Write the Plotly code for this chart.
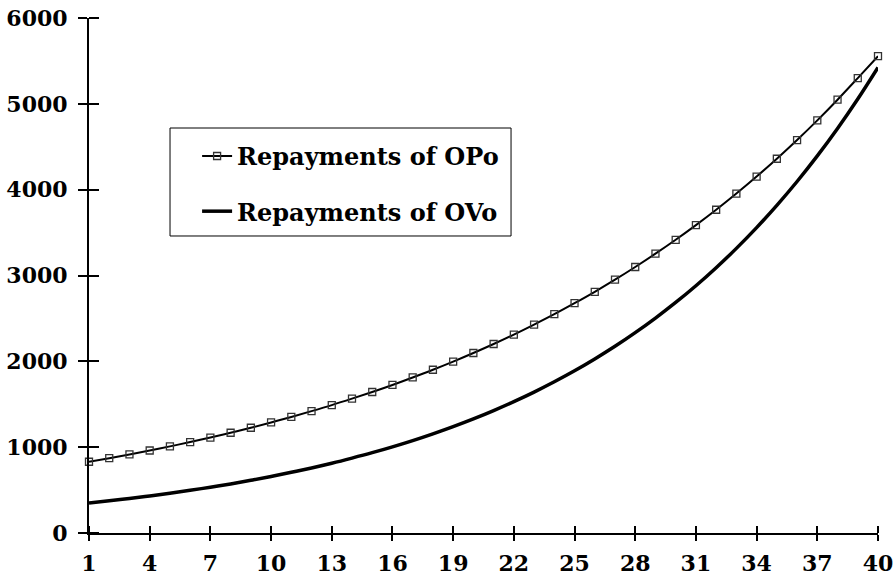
"""
Repayments of OPo vs OVo - Plotly line chart
"""
import plotly.graph_objects as go

# periods 1..40
periods = list(range(1, 41))

# repayments
opo_repayments = [
    830, 872, 915, 961, 1009, 1059, 1112, 1168, 1226, 1288,
    1352, 1420, 1490, 1565, 1643, 1725, 1812, 1902, 1997, 2097,
    2202, 2312, 2428, 2549, 2677, 2810, 2951, 3099, 3254, 3416,
    3587, 3766, 3955, 4153, 4360, 4578, 4807, 5048, 5300, 5555,
]
ovo_repayments = [
    350, 376, 403, 432, 464, 497, 534, 572, 614, 659,
    707, 758, 813, 873, 936, 1004, 1077, 1156, 1240, 1330,
    1427, 1531, 1642, 1762, 1890, 2028, 2175, 2334, 2504, 2686,
    2881, 3091, 3316, 3558, 3817, 4095, 4393, 4713, 5056, 5424,
]

x_ticks = list(range(1, 41, 3))
y_ticks = list(range(0, 6001, 1000))

FONT = dict(family="DejaVu Serif", color="black", weight="bold")

fig = go.Figure()
fig.add_trace(go.Scatter(
    x=periods, y=opo_repayments,
    name="Repayments of OPo",
    legendgroup="opo",
    mode="lines+markers",
    line=dict(color="black", width=2, shape="spline"),
    marker=dict(symbol="square-open", size=7, color="#333333",
                line=dict(width=1.3, color="#333333")),
    cliponaxis=False,
))
fig.add_trace(go.Scatter(
    x=periods, y=ovo_repayments,
    name="Repayments of OVo",
    legendgroup="ovo",
    mode="lines",
    line=dict(color="black", width=3.5, shape="spline"),
    cliponaxis=False,
))

tick_style = dict(tickwidth=2, tickcolor="black", showgrid=False,
                  zeroline=False, automargin=False)


def inner_ticks(vals, length):
    # plotly hides minor ticks that sit exactly on a major one, so nudge them
    return dict(tickmode="array", tickvals=[v + 1e-6 for v in vals],
                ticks="inside", ticklen=length, tickwidth=2,
                tickcolor="black", showgrid=False)


fig.update_layout(
    width=895, height=583,
    margin=dict(l=89, r=17, t=18, b=50),
    plot_bgcolor="white",
    paper_bgcolor="white",
    font=dict(FONT, size=22),
    showlegend=True,
    legend=dict(
        x=0.137, y=0.775, xanchor="left", yanchor="top",
        borderwidth=0, bgcolor="rgba(0,0,0,0)",
        font=dict(FONT, size=24),
        tracegroupgap=21,
        itemwidth=30,
    ),
    # legend frame
    shapes=[dict(
        type="rect", xref="paper", yref="paper",
        x0=0.1027, x1=0.5349, y0=0.5767, y1=0.7864,
        line=dict(color="black", width=1), fillcolor="white", layer="above",
    )],
    xaxis=dict(
        range=[1, 40],
        tickmode="array", tickvals=x_ticks,
        showline=True, linecolor="black", linewidth=2,
        ticks="outside", ticklen=6,
        minor=inner_ticks(x_ticks, 7),
        ticklabelstandoff=4,
        tickfont=dict(FONT, size=22),
        **tick_style,
    ),
    yaxis=dict(
        range=[0, 6000],
        tickmode="array", tickvals=y_ticks,
        showline=True, linecolor="black", linewidth=2,
        ticks="outside", ticklen=9,
        minor=inner_ticks(y_ticks, 10),
        ticklabelstandoff=6,
        tickfont=dict(FONT, size=22),
        **tick_style,
    ),
)

# the page body has a default 8px margin; drop it so the figure sits at 0,0
fig.write_html("out.html", config={"displayModeBar": False},
               post_script="document.body.style.margin='0px';")
